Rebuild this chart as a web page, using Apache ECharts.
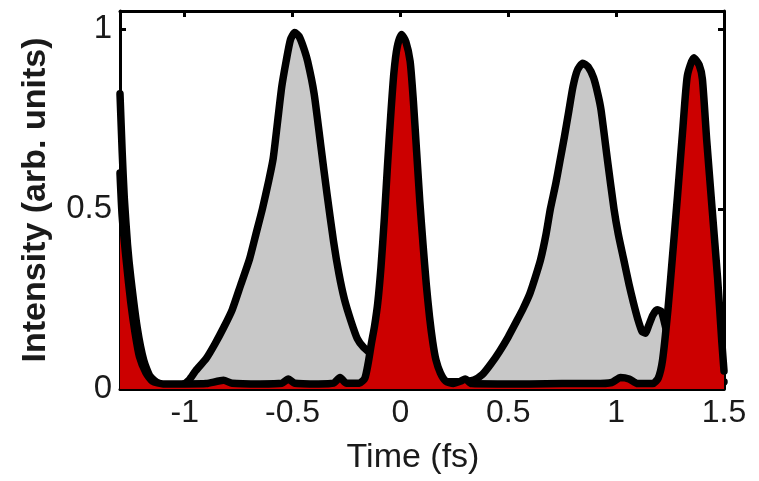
<!DOCTYPE html>
<html>
<head>
<meta charset="utf-8">
<script src="https://cdn.jsdelivr.net/npm/echarts@6/dist/echarts.min.js"></script>
<style>
html,body{margin:0;padding:0;background:#fff;}
#chart{width:759px;height:481px;}
</style>
</head>
<body>
<div id="chart"></div>
<script>
// Tick labels
const xTicks = [-1, -0.5, 0, 0.5, 1, 1.5];
const yTicks = [0, 0.5, 1];

// Gray (broad) pulse
const grayTime = [-1.30,-1.29,-1.28,-1.265,-1.25,-1.22,-1.19,-1.16,-1.12,-1.06,-1.01,-0.98,-0.95,-0.90,-0.86,-0.82,-0.78,-0.74,-0.70,-0.67,-0.64,-0.61,-0.59,-0.57,-0.55,-0.53,-0.51,-0.49,-0.47,-0.45,-0.43,-0.40,-0.37,-0.34,-0.31,-0.285,-0.26,-0.23,-0.20,-0.17,-0.14,-0.11,-0.08,-0.04,0.00,0.10,0.20,0.28,0.34,0.38,0.42,0.46,0.50,0.54,0.57,0.60,0.625,0.65,0.675,0.695,0.72,0.74,0.76,0.78,0.80,0.82,0.845,0.87,0.895,0.915,0.93,0.96,0.99,1.01,1.035,1.06,1.08,1.10,1.12,1.135,1.15,1.17,1.19,1.21,1.23,1.26,1.30,1.36,1.50];
const grayIntensity = [0.82,0.66,0.53,0.40,0.31,0.17,0.08,0.035,0.015,0.01,0.012,0.025,0.05,0.085,0.125,0.17,0.22,0.29,0.36,0.43,0.50,0.58,0.64,0.74,0.84,0.91,0.97,0.99,0.98,0.95,0.91,0.82,0.68,0.54,0.41,0.32,0.25,0.19,0.14,0.115,0.10,0.08,0.05,0.03,0.02,0.02,0.02,0.02,0.025,0.04,0.07,0.105,0.145,0.19,0.225,0.265,0.31,0.36,0.43,0.50,0.57,0.635,0.70,0.77,0.84,0.885,0.905,0.895,0.865,0.82,0.775,0.635,0.50,0.43,0.36,0.29,0.24,0.195,0.16,0.155,0.175,0.205,0.22,0.215,0.17,0.10,0.05,0.03,0.02];

// Red (narrow) pulse
const redTime = [-1.30,-1.29,-1.27,-1.25,-1.23,-1.21,-1.18,-1.15,-1.10,-1.00,-0.90,-0.82,-0.78,-0.65,-0.55,-0.52,-0.49,-0.38,-0.31,-0.28,-0.25,-0.19,-0.165,-0.15,-0.135,-0.12,-0.105,-0.09,-0.075,-0.06,-0.045,-0.03,-0.015,0.005,0.025,0.045,0.06,0.075,0.09,0.105,0.12,0.135,0.15,0.165,0.185,0.21,0.245,0.28,0.30,0.33,0.45,0.60,0.75,0.90,0.98,1.02,1.06,1.10,1.17,1.195,1.215,1.24,1.26,1.285,1.31,1.33,1.36,1.385,1.40,1.42,1.445,1.47,1.49,1.50];
const redIntensity = [0.60,0.48,0.35,0.24,0.155,0.09,0.045,0.022,0.014,0.014,0.015,0.024,0.016,0.014,0.016,0.028,0.016,0.014,0.016,0.032,0.016,0.016,0.03,0.07,0.125,0.175,0.24,0.34,0.47,0.62,0.76,0.88,0.95,0.985,0.965,0.91,0.80,0.66,0.52,0.40,0.29,0.20,0.13,0.08,0.045,0.022,0.015,0.022,0.028,0.015,0.014,0.014,0.015,0.015,0.018,0.032,0.028,0.015,0.015,0.03,0.08,0.22,0.36,0.54,0.73,0.87,0.92,0.90,0.86,0.69,0.50,0.31,0.13,0.05];

const zip = (a, b) => a.map((v, i) => [v, b[i]]);

const font = 'Liberation Sans, Arial, sans-serif';
const textColor = '#1a1a1a';

const chart = echarts.init(document.getElementById('chart'), null, {renderer: 'canvas'});
chart.setOption({
  animation: false,
  backgroundColor: '#ffffff',
  grid: {left: 120, right: 35, top: 11, bottom: 92, containLabel: false},
  xAxis: [{
    type: 'value', position: 'bottom', min: -1.3, max: 1.5,
    name: 'Time (fs)', nameLocation: 'middle', nameGap: 52,
    nameTextStyle: {fontFamily: font, fontSize: 34, color: textColor, padding: [0, 18, 0, 0]},
    axisLine: {show: true, onZero: false, lineStyle: {color: '#000', width: 3}},
    axisTick: {show: true, inside: true, length: 6, customValues: xTicks, lineStyle: {color: '#000', width: 3}},
    axisLabel: {customValues: xTicks, fontFamily: font, fontSize: 32, color: textColor, margin: 8},
    splitLine: {show: false}
  }, {
    type: 'value', position: 'top', min: -1.3, max: 1.5,
    axisLine: {show: true, onZero: false, lineStyle: {color: '#000', width: 3}},
    axisTick: {show: true, inside: true, length: 6, customValues: xTicks, lineStyle: {color: '#000', width: 3}},
    axisLabel: {show: false},
    splitLine: {show: false}
  }],
  yAxis: [{
    type: 'value', position: 'left', min: 0, max: 1.05,
    name: 'Intensity (arb. units)', nameLocation: 'middle', nameGap: 67,
    nameTextStyle: {fontFamily: font, fontSize: 34, fontWeight: 'bold', color: textColor},
    axisLine: {show: true, onZero: false, lineStyle: {color: '#000', width: 3}},
    axisTick: {show: true, inside: true, length: 6, customValues: yTicks, lineStyle: {color: '#000', width: 3}},
    axisLabel: {customValues: yTicks, fontFamily: font, fontSize: 33, color: textColor, margin: 8},
    splitLine: {show: false}
  }, {
    type: 'value', position: 'right', min: 0, max: 1.05,
    axisLine: {show: true, onZero: false, lineStyle: {color: '#000', width: 3}},
    axisTick: {show: true, inside: true, length: 6, customValues: yTicks, lineStyle: {color: '#000', width: 3}},
    axisLabel: {show: false},
    splitLine: {show: false}
  }],
  series: [{
    type: 'line', name: 'gray', xAxisIndex: 0, yAxisIndex: 0,
    data: zip(grayTime, grayIntensity),
    showSymbol: false, symbol: 'none', smooth: 0.2,
    lineStyle: {color: '#000', width: 7.5, join: 'round', cap: 'round'},
    areaStyle: {color: '#c8c8c8', opacity: 1},
    z: 2
  }, {
    type: 'line', name: 'red', xAxisIndex: 0, yAxisIndex: 0,
    data: zip(redTime, redIntensity),
    showSymbol: false, symbol: 'none', smooth: 0.2,
    lineStyle: {color: '#000', width: 7.5, join: 'round', cap: 'round'},
    areaStyle: {color: '#cc0000', opacity: 1},
    z: 3
  }]
});
</script>
</body>
</html>
